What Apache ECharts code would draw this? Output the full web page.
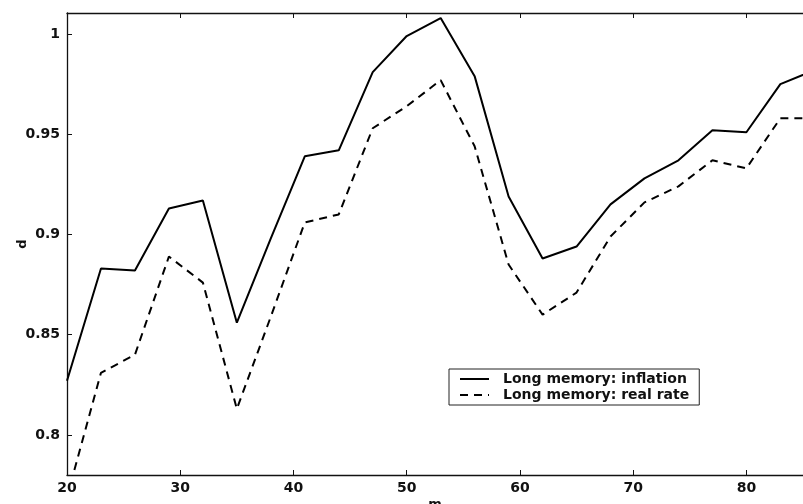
<!DOCTYPE html>
<html lang="en" style="height: 100%">
<head>
  <meta charset="utf-8">
</head>
<body style="height: 100%; margin: 0; background: #fff">
<div id="container" style="width: 803px; height: 504px"></div>

<script type="text/javascript" src="https://cdn.jsdelivr.net/npm/echarts@6/dist/echarts.min.js"></script>
<script type="text/javascript">
  // bandwidth m and the two long-memory estimates d
  var mValues = [20, 23, 26, 29, 32, 35, 38, 41, 44, 47, 50, 53, 56, 59, 62, 65, 68, 71, 74, 77, 80, 83, 86];
  var inflation = [0.827, 0.883, 0.882, 0.913, 0.917, 0.856, 0.898, 0.939, 0.942, 0.981, 0.999, 1.008,
                   0.979, 0.919, 0.888, 0.894, 0.915, 0.928, 0.937, 0.952, 0.951, 0.975, 0.982];
  var realRate = [0.769, 0.831, 0.840, 0.889, 0.876, 0.813, 0.859, 0.906, 0.910, 0.953, 0.964, 0.977,
                  0.944, 0.885, 0.860, 0.871, 0.899, 0.916, 0.924, 0.937, 0.933, 0.958, 0.958];
  var xTicks = [20, 30, 40, 50, 60, 70, 80];
  var yTicks = [0.8, 0.85, 0.9, 0.95, 1];
  var seriesNames = ['Long memory: inflation', 'Long memory: real rate'];

  function pairs(ys) {
    return mValues.map(function (m, i) { return [m, ys[i]]; });
  }

  var font = '"DejaVu Sans", sans-serif';
  var axisLine = { show: true, lineStyle: { color: '#111', width: 1.3 } };

  var dom = document.getElementById('container');
  var myChart = echarts.init(dom, null, { renderer: 'canvas' });

  var option = {
    animation: false,
    backgroundColor: '#fff',
    grid: { left: 67, right: 0, top: 13, bottom: 29, containLabel: false, outerBoundsMode: 'none' },
    legend: {
      data: seriesNames,
      orient: 'vertical',
      left: 449,
      top: 369,
      padding: [3, 10, 3, 10],
      itemGap: 2,
      itemWidth: 29,
      itemHeight: 13,
      borderColor: '#222',
      borderWidth: 1,
      itemStyle: { color: 'rgba(0,0,0,0)', borderWidth: 0 },
      textStyle: { fontFamily: font, fontWeight: 'bold', fontSize: 14, color: '#111', padding: [0, 0, 0, 9] }
    },
    xAxis: [
      {
        type: 'value', min: 20, max: 85,
        name: 'm', nameLocation: 'middle', nameGap: 23, nameMoveOverlap: false,
        nameTextStyle: { fontFamily: font, fontWeight: 'bold', fontSize: 13, color: '#111' },
        axisLine: axisLine,
        axisTick: { inside: true, length: 5, customValues: xTicks, lineStyle: { color: '#111' } },
        axisLabel: { customValues: xTicks, margin: 6, fontFamily: font, fontWeight: 'bold', fontSize: 14, color: '#111' },
        splitLine: { show: false }
      },
      {
        type: 'value', min: 20, max: 85, position: 'top',
        axisLine: axisLine,
        axisTick: { inside: true, length: 5, customValues: xTicks, lineStyle: { color: '#111' } },
        axisLabel: { show: false },
        splitLine: { show: false }
      }
    ],
    yAxis: {
      type: 'value', min: 0.78, max: 1.0105,
      name: 'd', nameLocation: 'middle', nameGap: 38, nameMoveOverlap: false,
      nameTextStyle: { fontFamily: font, fontWeight: 'bold', fontSize: 13, color: '#111' },
      axisLine: axisLine,
      axisTick: { inside: true, length: 5, customValues: yTicks, lineStyle: { color: '#111' } },
      axisLabel: { customValues: yTicks, margin: 7, fontFamily: font, fontWeight: 'bold', fontSize: 14, color: '#111' },
      splitLine: { show: false }
    },
    series: [
      {
        name: seriesNames[0],
        type: 'line',
        symbol: 'none',
        data: pairs(inflation),
        lineStyle: { color: '#000', width: 2, type: 'solid' },
        itemStyle: { color: '#000' }
      },
      {
        name: seriesNames[1],
        type: 'line',
        symbol: 'none',
        data: pairs(realRate),
        lineStyle: { color: '#000', width: 2, type: [8, 6] },
        itemStyle: { color: '#000' }
      }
    ]
  };

  myChart.setOption(option);
  window.addEventListener('resize', myChart.resize);
</script>
</body>
</html>
